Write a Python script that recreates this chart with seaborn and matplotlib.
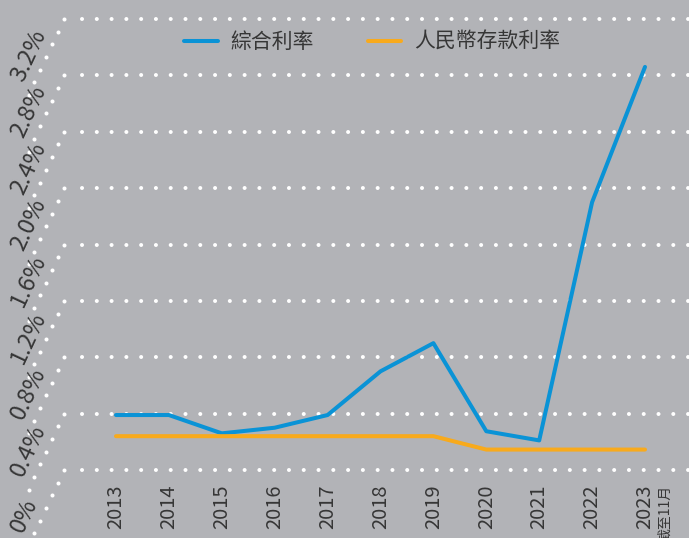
import matplotlib
matplotlib.use("Agg")
import matplotlib.pyplot as plt
import matplotlib.transforms as mtransforms
import numpy as np
import pandas as pd
import seaborn as sns

# Datos (%)
years = [2013, 2014, 2015, 2016, 2017, 2018, 2019, 2020, 2021, 2022, 2023]
composite_rate = [0.39, 0.39, 0.26, 0.30, 0.39, 0.70, 0.90, 0.275, 0.21, 1.90, 2.86]
rmb_deposit_rate = [0.24, 0.24, 0.24, 0.24, 0.24, 0.24, 0.24, 0.145, 0.145, 0.145, 0.145]
series_names = ["綜合利率", "人民幣存款利率"]
y_ticks = [0.0, 0.4, 0.8, 1.2, 1.6, 2.0, 2.4, 2.8, 3.2]
y_labels = ["0%", "0.4%", "0.8%", "1.2%", "1.6%", "2.0%", "2.4%", "2.8%", "3.2%"]
note_2023 = "截至11月"

BG = "#b2b3b7"
BLUE = "#0a93d6"
ORANGE = "#f8aa1c"
TEXT = "#363636"

sns.set_style("white", {"axes.facecolor": BG, "figure.facecolor": BG})
plt.rcParams["font.family"] = ["Noto Sans CJK TC", "DejaVu Sans"]

df = pd.DataFrame({
    "year": years * 2,
    "rate": composite_rate + rmb_deposit_rate,
    "series": [series_names[0]] * len(years) + [series_names[1]] * len(years),
})

fig = plt.figure(figsize=(6.89, 5.38), dpi=100)
ax = fig.add_axes([64 / 689, 68 / 538, 1 - 64 / 689, (519 - 68) / 538])

# gridlines de puntos
px_per_year = 52.9
grid_x0 = 2013 - (116 - 81.7) / px_per_year
for v in y_ticks:
    ax.plot([grid_x0, 2025], [v, v], color="white", lw=2.9,
            linestyle=(0, (0.01, 3.66)), dash_capstyle="round",
            clip_on=False, zorder=1)

sns.lineplot(data=df, x="year", y="rate", hue="series",
             palette=[BLUE, ORANGE], linewidth=2.9, ax=ax, zorder=3)

ax.set_xlim(2013 - (116 - 64) / px_per_year, 2023 + (689 - 645) / px_per_year)
ax.set_ylim(0, 3.2)
sns.despine(ax=ax, left=True, bottom=True)

# eje y inclinado: puntos diagonales + etiquetas rotadas
ytrans = ax.get_yaxis_transform()
ang = np.deg2rad(65)
for v, lab in zip(y_ticks, y_labels):
    for k in range(7):
        off = mtransforms.ScaledTranslation(-k * 14 * np.cos(ang) / 100,
                                            -k * 14 * np.sin(ang) / 100,
                                            fig.dpi_scale_trans)
        ax.plot([0], [v], "o", color="white", markersize=2.9, mew=0,
                transform=ytrans + off, clip_on=False, zorder=1)
    off = mtransforms.ScaledTranslation(-41 / 100, -64 / 100, fig.dpi_scale_trans)
    ax.text(0, v, lab, transform=ytrans + off, rotation=65,
            rotation_mode="anchor", ha="left", va="baseline",
            fontsize=17, color=TEXT)

ax.set_yticks([])
ax.set_xticks(years)
ax.set_xticklabels([str(y) for y in years], rotation=90, va="top",
                   fontsize=14.5, color=TEXT)
ax.tick_params(axis="x", length=0, pad=10.5)
ax.set_xlabel("")
ax.set_ylabel("")

xtrans = ax.get_xaxis_transform()
off = mtransforms.ScaledTranslation(20 / 100, -15 / 100, fig.dpi_scale_trans)
ax.text(2023, 0, note_2023, transform=xtrans + off, rotation=90,
        ha="center", va="top", fontsize=10, color=TEXT)

leg = ax.legend(loc="center", bbox_to_anchor=(0.493, 0.949), ncol=2,
                frameon=False, fontsize=15, handlelength=1.6,
                handletextpad=0.6, columnspacing=2.6)
for t in leg.get_texts():
    t.set_color(TEXT)
for h in leg.get_lines():
    h.set_linewidth(2.9)

fig.savefig("out.png", dpi=100, facecolor=BG)
